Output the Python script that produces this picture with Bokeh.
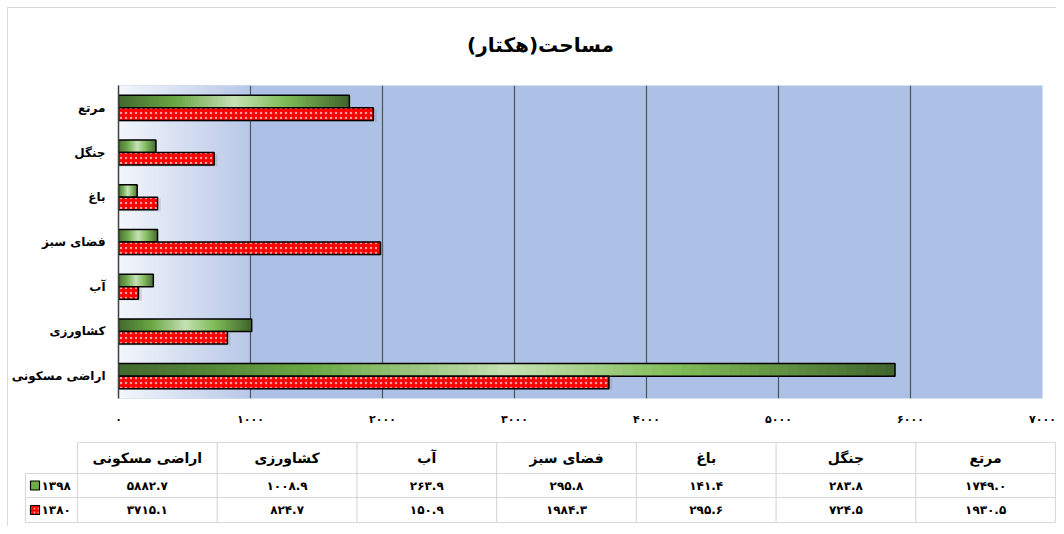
from bokeh.plotting import figure
from bokeh.models import Range1d, FixedTicker
from bokeh.layouts import column
from bokeh.embed import file_html
from bokeh.resources import INLINE
from bokeh.core.properties import value

# ---------------- data ----------------
categories = ["مرتع", "جنگل", "باغ", "فضای سبز", "آب", "کشاورزی", "اراضی مسکونی"]
values_1398 = [1749.0, 283.8, 141.4, 295.8, 263.9, 1008.9, 5882.7]
values_1380 = [1930.5, 724.5, 295.6, 1984.3, 150.9, 824.7, 3715.1]
series_names = ["۱۳۹۸", "۱۳۸۰"]
x_ticks = [0, 1000, 2000, 3000, 4000, 5000, 6000, 7000]
x_tick_labels = ["۰", "۱۰۰۰", "۲۰۰۰", "۳۰۰۰", "۴۰۰۰", "۵۰۰۰", "۶۰۰۰", "۷۰۰۰"]
title_text = "مساحت(هکتار)"

# ---------------- helpers ----------------
FA = str.maketrans("0123456789", "۰۱۲۳۴۵۶۷۸۹")


def fa(v):
    return f"{v:.1f}".translate(FA)


def hexc(rgb):
    return "#%02x%02x%02x" % tuple(int(round(c)) for c in rgb)


def interp(stops, t):
    for (t0, c0), (t1, c1) in zip(stops, stops[1:]):
        if t0 <= t <= t1:
            f = (t - t0) / (t1 - t0) if t1 > t0 else 0
            return hexc([a + (b - a) * f for a, b in zip(c0, c1)])
    return hexc(stops[-1][1])


def pixel_fig(w, h):
    f = figure(frame_width=w, frame_height=h, x_range=Range1d(0, w), y_range=Range1d(h, 0),
               output_backend="svg", toolbar_location=None, min_border=0)
    f.frame_align = False
    f.axis.visible = False
    f.grid.visible = False
    f.outline_line_color = None
    f.background_fill_color = "white"
    f.border_fill_color = "white"
    return f


FONT = "DejaVu Sans"
n = len(categories)
ypos = [n - 1 - i for i in range(n)]
BAR_H = 0.28
W = 1048

GREEN_STOPS = [(0.0, (66, 104, 46)), (0.25, (106, 168, 68)), (0.5, (198, 224, 180)),
               (0.72, (128, 188, 88)), (1.0, (64, 100, 44))]
BG_STOPS = [(0.0, (243, 246, 251)), (1.0, (183, 199, 231))]
BLUE = "#adc0e5"

# ---------------- title ----------------
head = pixel_fig(W, 77)
head.text(x=[532], y=[36], text=[title_text], text_align="center", text_baseline="middle",
          text_font=value(FONT), text_font_style="bold", text_font_size="20px", text_color="black")

# ---------------- chart ----------------
p = figure(frame_width=924, frame_height=313,
           x_range=Range1d(x_ticks[0], x_ticks[-1]), y_range=Range1d(-0.5, n - 0.5),
           output_backend="svg", toolbar_location=None,
           min_border_left=110, min_border_right=14, min_border_top=0, min_border_bottom=40)
p.frame_align = False
p.background_fill_color = BLUE
p.border_fill_color = "white"
p.outline_line_color = None

# background gradient from 0 to first gridline
NB = 60
g0, g1 = x_ticks[0], x_ticks[1]
bl = [g0 + (g1 - g0) * k / NB for k in range(NB)]
br = [g0 + (g1 - g0) * (k + 1.6) / NB for k in range(NB)]
bc = [interp(BG_STOPS, (k + 0.5) / NB) for k in range(NB)]
p.quad(left=bl, right=br, bottom=-0.5, top=n - 0.5, fill_color=bc, line_color=None, level="image")

# green bars (1398) with gradient
NS = 80
gl, gr, gy, gc = [], [], [], []
for y, v in zip(ypos, values_1398):
    for k in range(NS):
        gl.append(v * k / NS)
        gr.append(min(v * (k + 1.8) / NS, v))
        gy.append(y + BAR_H / 2)
        gc.append(interp(GREEN_STOPS, (k + 0.5) / NS))
p.hbar(y=gy, left=gl, right=gr, height=BAR_H, fill_color=gc, line_color=None)
p.hbar(y=[y + BAR_H / 2 for y in ypos], left=0, right=values_1398, height=BAR_H,
       fill_color=None, line_color="black", line_width=1.5)

# red bars (1380) dotted, with a soft shadow
p.hbar(y=[y - BAR_H / 2 - 0.03 for y in ypos], left=0, right=[v + 25 for v in values_1380],
       height=BAR_H, fill_color="#7f7f7f", fill_alpha=0.25, line_color=None)
p.hbar(y=[y - BAR_H / 2 for y in ypos], left=0, right=values_1380, height=BAR_H,
       fill_color="#ff0000", line_color="black", line_width=1.5,
       hatch_pattern="dot", hatch_color="#ffa0a0", hatch_scale=5, hatch_weight=0.9)

# axes / grid
p.xgrid.ticker = FixedTicker(ticks=x_ticks)
p.xgrid.grid_line_color = "#4d525c"
p.xgrid.grid_line_width = 1.2
p.ygrid.grid_line_color = None

p.xaxis.ticker = FixedTicker(ticks=x_ticks)
p.xaxis.major_label_overrides = {t: l for t, l in zip(x_ticks, x_tick_labels)}
p.xaxis.axis_line_color = None
p.xaxis.major_tick_line_color = None
p.xaxis.minor_tick_line_color = None
p.xaxis.major_label_standoff = 8
p.xaxis.major_label_text_font = FONT
p.xaxis.major_label_text_font_style = "bold"
p.xaxis.major_label_text_font_size = "11px"
p.xaxis.major_label_text_color = "black"

p.yaxis.ticker = FixedTicker(ticks=ypos)
p.yaxis.major_label_overrides = {y: c for y, c in zip(ypos, categories)}
p.yaxis.axis_line_color = "#404040"
p.yaxis.axis_line_width = 1.5
p.yaxis.major_tick_line_color = None
p.yaxis.minor_tick_line_color = None
p.yaxis.major_label_standoff = 7
p.yaxis.major_label_text_font = FONT
p.yaxis.major_label_text_font_style = "bold"
p.yaxis.major_label_text_font_size = "12px"
p.yaxis.major_label_text_color = "black"

# ---------------- data table ----------------
TH = 88
t = pixel_fig(W, TH)

LX0, DX0, DX1 = 17, 69, 1047
RY = [4, 35, 59, 84]
cw = (DX1 - DX0) / n
col_x = [DX0 + cw * (j + 0.5) for j in range(n)]
col_cat = list(reversed(range(n)))  # rightmost column is first category
LC = "#d9d9d9"

hx0 = [DX0, LX0, LX0, LX0]
t.segment(x0=hx0, y0=RY, x1=[DX1] * 4, y1=RY, line_color=LC, line_width=1.2)
vx = [DX0 + cw * j for j in range(n + 1)]
t.segment(x0=vx, y0=[RY[0]] * len(vx), x1=vx, y1=[RY[-1]] * len(vx), line_color=LC, line_width=1.2)
t.segment(x0=[LX0], y0=[RY[1]], x1=[LX0], y1=[RY[-1]], line_color=LC, line_width=1.2)

hy = (RY[0] + RY[1]) / 2
r1 = (RY[1] + RY[2]) / 2
r2 = (RY[2] + RY[3]) / 2
t.text(x=col_x, y=[hy] * n, text=[categories[i] for i in col_cat], text_align="center",
       text_baseline="middle", text_font=value(FONT), text_font_style="bold",
       text_font_size="14px", text_color="black")
t.text(x=col_x, y=[r1] * n, text=[fa(values_1398[i]) for i in col_cat], text_align="center",
       text_baseline="middle", text_font=value(FONT), text_font_style="bold",
       text_font_size="12px", text_color="black")
t.text(x=col_x, y=[r2] * n, text=[fa(values_1380[i]) for i in col_cat], text_align="center",
       text_baseline="middle", text_font=value(FONT), text_font_style="bold",
       text_font_size="12px", text_color="black")

# legend keys
t.rect(x=[26.5], y=[r1], width=9, height=9, fill_color="#70ad47", line_color="black", line_width=1.2)
t.rect(x=[26.5], y=[r2], width=9, height=9, fill_color="#ff0000", line_color="black", line_width=1.2,
       hatch_pattern="dot", hatch_color="#ffa0a0", hatch_scale=4, hatch_weight=0.9)
t.text(x=[33, 33], y=[r1, r2], text=series_names, text_align="left", text_baseline="middle",
       text_font=value(FONT), text_font_style="bold", text_font_size="12px", text_color="black")

layout = column(head, p, t, spacing=0,
                styles={"margin-left": "7px", "margin-top": "7px",
                        "border-left": "1px solid #d9d9d9", "border-top": "1px solid #d9d9d9"})
open("out.html", "w").write(file_html(layout, INLINE))
